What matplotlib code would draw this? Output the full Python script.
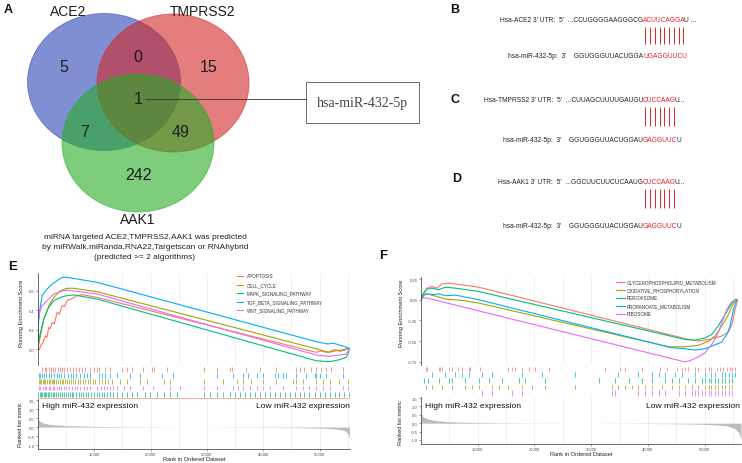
import matplotlib
matplotlib.use("Agg")
import matplotlib.pyplot as plt
from matplotlib.patches import Ellipse, Rectangle

plt.rcParams['font.family'] = ['Liberation Sans', 'DejaVu Sans']

# ---------------- data ----------------
venn_names = ["ACE2", "TMPRSS2", "AAK1"]
# ACE2 only, ACE2&TMPRSS2, TMPRSS2 only, all three, ACE2&AAK1, TMPRSS2&AAK1, AAK1 only
venn_counts = [5, 0, 15, 1, 7, 49, 242]
venn_hit = "hsa-miR-432-5p"
caption = ["miRNA targeted ACE2,TMPRSS2,AAK1 was predicted",
           "by miRWalk,miRanda,RNA22,Targetscan or RNAhybrid",
           "(predicted >= 2 algorithms)"]

seq_panels = ["B", "C", "D"]
utr_labels = ["Hsa-ACE2 3' UTR:", "Hsa-TMPRSS2 3' UTR:", "Hsa-AAK1 3' UTR:"]
utr_left = ["...CCUGGGGAAGGGCG", "...CUUAGCUUUUGAUGU", "...GGCUUCUUCUCAAUG"]
utr_seed = ["ACUUCAGGA", "CUCCAAG", "CUCCAAG"]
utr_right = ["U ...", "U...", "U..."]
mir_label = "hsa-miR-432-5p:"
mir_left = ["GGUGGGUUACUGGA", "GGUGGGUUACUGGAU", "GGUGGGUUACUGGAU"]
mir_seed = ["UGAGGUUCU", "GAGGUUC", "GAGGUUC"]
mir_right = ["", "U", "U"]

hue = ['#F8766D', '#A3A500', '#00BF7D', '#00B0F6', '#E76BF3']

# --- E: gene sets ---
e_sets = ["APOPTOSIS", "CELL_CYCLE", "MAPK_SIGNALING_PATHWAY",
          "TGF_BETA_SIGNALING_PATHWAY", "WNT_SIGNALING_PATHWAY"]
e_apop_x = [0, 270, 440, 740, 1330, 1600, 1920, 2200, 2510, 2900, 3390, 3800, 4280, 4700, 5160, 6050, 6930, 7820,
            10470, 49410, 50300, 51200, 51770, 52400, 52950, 53500, 54130, 54700, 55310]
e_apop_y = [0.007, -0.007, 0.034, 0.052, 0.138, 0.12, 0.224, 0.21, 0.276, 0.26, 0.379, 0.36, 0.448, 0.44, 0.5,
            0.524, 0.552, 0.562, 0.534, -0.034, -0.02, -0.035, -0.028, -0.01, -0.007, -0.025, -0.017, -0.005, 0.007]
e_cell_x = [0, 440, 1030, 1920, 2800, 3980, 5160, 6340, 10470, 50000, 51770, 52950, 54130, 55310]
e_cell_y = [0.007, 0.138, 0.31, 0.448, 0.534, 0.603, 0.628, 0.628, 0.593, -0.007, -0.034, -0.017, -0.007, 0.007]
e_mapk_x = [0, 440, 1030, 1920, 2800, 3980, 5160, 6340, 10470, 49410, 51770, 53540, 54720, 55020, 55310]
e_mapk_y = [0.052, 0.172, 0.31, 0.431, 0.5, 0.534, 0.552, 0.559, 0.517, -0.121, -0.131, -0.11, -0.086, -0.052, 0.0]
e_tgf_x = [0, 100, 300, 740, 1620, 2510, 3390, 4280, 5160, 6930, 10470, 49410, 50590, 51480, 52360, 53540, 55310]
e_tgf_y = [0.05, 0.28, 0.40, 0.552, 0.621, 0.672, 0.707, 0.741, 0.741, 0.724, 0.69, 0.076, 0.062, 0.052, 0.062,
           0.041, 0.007]
e_wnt_x = [0, 150, 740, 1620, 2800, 3980, 5160, 10470, 49410, 51770, 53540, 54720, 55310]
e_wnt_y = [0.207, 0.362, 0.448, 0.5, 0.569, 0.593, 0.61, 0.569, -0.062, -0.076, -0.062, -0.052, 0.0]

e_hits_apop = [700, 1200, 1500, 1900, 2300, 2700, 3100, 3500, 3900, 4300, 4700, 5200, 5600, 6300, 6800, 7200,
               7800, 8400, 9200, 10000, 10500, 10900, 11900, 12800, 14900, 15800, 16700, 18700, 20200, 20600,
               22900, 29400, 31700, 34100, 34400, 37000, 39400, 42300, 45900, 46500, 47300, 48500, 49300, 50300,
               51200, 52100, 54100]
e_hits_cell = [100, 300, 600, 800, 1000, 1300, 1600, 1900, 2100, 2400, 2700, 2900, 3200, 3500, 3900, 4200, 4500,
               4800, 5200, 5500, 5900, 6200, 6600, 7100, 7500, 8000, 8400, 8800, 9300, 9800, 10200, 10800, 11400,
               11900, 12500, 13100, 14600, 15800, 18100, 19300, 22300, 23500, 29400, 32900, 35300, 36400, 37900,
               40000, 42300, 45300, 45900, 47100, 49400, 50600, 51800, 53500, 55000]
e_hits_mapk = [0, 300, 500, 700, 1000, 1200, 1400, 1700, 2000, 2300, 2600, 2900, 3200, 3500, 3900, 4200, 4600,
               4900, 5300, 5600, 6000, 6300, 6800, 7200, 7600, 8000, 8500, 8900, 9400, 9900, 10400, 10800, 11300,
               11800, 12200, 12800, 13400, 14100, 14900, 15800, 16700, 17600, 19000, 19900, 21100, 22300, 23500,
               24600, 29400, 30500, 31700, 32900, 34100, 35000, 35800, 36700, 37600, 38500, 39400, 40300, 41200,
               42000, 42900, 43800, 44700, 45600, 46500, 47300, 48200, 49100, 50000, 50900, 51800, 52700, 53500,
               54400, 55200]
e_hits_tgf = [100, 400, 700, 1000, 1500, 1900, 2300, 2800, 3300, 3700, 4100, 4600, 5300, 5800, 6200, 6800, 7500,
              8100, 8700, 9300, 10800, 11400, 11900, 12800, 14000, 16400, 18100, 22000, 24000, 31700, 34700,
              36400, 37300, 38800, 40000, 42000, 42600, 43500, 44100, 45900, 47600, 49100, 49400, 50000, 51200,
              54100]
e_hits_wnt = [100, 400, 800, 1200, 1500, 1900, 2200, 2600, 2900, 3300, 3700, 4100, 4600, 5000, 5500, 6000, 6500,
              6900, 7500, 8100, 8700, 9300, 10500, 11100, 11700, 12200, 12800, 13400, 14000, 15200, 16400, 18700,
              20500, 23500, 25200, 29400, 31700, 34700, 35500, 36400, 37600, 38800, 40000, 41200, 43500, 45900,
              47100, 48200, 49400, 50600, 51800, 54100, 55000]

e_rank_x = [0, 300, 1000, 2000, 3500, 5000, 7500, 10000, 15000, 20000, 28000, 35000, 42000, 47000, 50000,
            52000, 53500, 54500, 55000, 55300]
e_rank_y = [0.45, 0.32, 0.22, 0.15, 0.11, 0.08, 0.06, 0.04, 0.02, 0.01, 0.0, -0.01, -0.02, -0.04, -0.06,
            -0.09, -0.13, -0.2, -0.35, -0.6]

# --- F: gene sets ---
f_sets = ["GLYCEROPHOSPHOLIPID_METABOLISM", "OXIDATIVE_PHOSPHORYLATION", "PEROXISOME",
          "PROPANOATE_METABOLISM", "RIBOSOME"]
f_glyc_x = [0, 470, 1060, 1940, 2820, 3700, 4870, 7220, 10150, 47140, 48900, 51240, 53000, 54180, 54880, 55350,
            55820]
f_glyc_y = [0.02, 0.08, 0.14, 0.16, 0.14, 0.192, 0.2, 0.18, 0.152, -0.48, -0.5, -0.473, -0.44, -0.393, -0.28,
            -0.12, 0.0]
f_oxph_x = [0, 760, 1640, 3110, 4280, 7220, 10150, 43610, 46550, 48900, 50660, 51830, 53000, 54180, 55060, 55650]
f_oxph_y = [0.0, 0.072, 0.06, 0.032, 0.008, -0.008, -0.04, -0.569, -0.569, -0.553, -0.5, -0.441, -0.32, -0.18,
            -0.04, -0.008]
f_perox_x = [0, 470, 1060, 1940, 3110, 4280, 6050, 10150, 46550, 48310, 50070, 51240, 52420, 53590, 54770, 55470]
f_perox_y = [0.008, 0.08, 0.128, 0.14, 0.12, 0.152, 0.14, 0.1, -0.481, -0.489, -0.461, -0.421, -0.313, -0.18,
             -0.04, 0.008]
f_prop_x = [0, 350, 1060, 2230, 3110, 4280, 6050, 10150, 44200, 46550, 48310, 50070, 51240, 53000, 53890, 54470,
            55060, 55650]
f_prop_y = [-0.008, 0.06, 0.072, 0.06, 0.072, 0.048, 0.056, 0.0, -0.581, -0.593, -0.609, -0.593, -0.561, -0.513,
            -0.421, -0.32, -0.12, 0.0]
f_ribo_x = [0, 180, 1060, 46550, 47720, 48900, 50070, 51240, 52130, 53000, 53890, 54650, 55350]
f_ribo_y = [-0.02, 0.02, 0.02, -0.753, -0.729, -0.689, -0.641, -0.541, -0.441, -0.28, -0.12, -0.032, 0.0]

f_hits_glyc = [800, 1100, 3100, 3400, 3700, 4900, 5500, 6600, 7200, 8400, 8700, 10400, 15400, 16000, 16600,
               17800, 19000, 20100, 22500, 32500, 35100, 36000, 38900, 42100, 43300, 45100, 46000, 46500, 47100,
               48300, 48900, 50100, 50700, 51200, 52100, 52700, 53300, 53900, 54500, 54800, 55400]
f_hits_oxph = [800, 1900, 3700, 5500, 7800, 9000, 10200, 12500, 13700, 15400, 17800, 19500, 21900, 27200, 33600,
               34800, 36000, 37200, 38300, 39500, 40700, 42400, 44200, 45400, 46500, 47700, 48900, 50100, 50700,
               51200, 51800, 52400, 53000, 53600, 54200, 54800]
f_hits_perox = [500, 1300, 3100, 4900, 5500, 7800, 10200, 11900, 14300, 17200, 18400, 21900, 31300, 34200, 36600,
                38900, 40700, 43000, 44200, 45400, 47100, 48300, 49500, 50100, 50700, 51200, 51800, 52400, 53000,
                53600, 54200, 54800]
f_hits_prop = [1900, 4300, 6000, 7200, 8400, 10700, 12500, 17800, 21300, 27200, 34800, 38300, 40700, 41900,
               43000, 44800, 46000, 48300, 50100, 51200, 51800, 53000, 53600, 54200, 54800, 55400]
f_hits_ribo = [10700, 12500, 16000, 17800, 33600, 34200, 38300, 39500, 40700, 41900, 43000, 45400, 46500, 47700,
               48300, 48900, 49500, 50100, 50700, 51200, 51800, 52400, 53000, 53600, 54200, 54800]

f_rank_x = [0, 300, 1000, 2000, 3500, 5000, 7500, 10000, 15000, 20000, 28000, 36000, 44000, 49000, 52000,
            54000, 55200, 56000, 56400]
f_rank_y = [0.6, 0.4, 0.28, 0.19, 0.13, 0.09, 0.06, 0.04, 0.02, 0.01, 0.0, -0.01, -0.03, -0.06, -0.1,
            -0.16, -0.3, -0.55, -1.0]

# ---------------- figure ----------------
W, H = 742, 464
fig = plt.figure(figsize=(W / 100, H / 100), dpi=100)


def px_axes(x0, y0, x1, y1, **kw):
    return fig.add_axes([x0 / W, 1 - y1 / H, (x1 - x0) / W, (y1 - y0) / H], **kw)


ov = px_axes(0, 0, W, H, zorder=5)
ov.set_xlim(0, W)
ov.set_ylim(H, 0)
ov.axis('off')

# --- A: venn ---
venn_colors = ['#2b45b5', '#d22626', '#26ac26']
venn_geom = [((104, 83), 153, 137), ((173, 84), 152, 138), ((138, 144), 152, 138)]
for (c, w, h), col in zip(venn_geom, venn_colors):
    ov.add_patch(Ellipse(c, w, h, facecolor=col, edgecolor=col, lw=0.6, alpha=0.6))
count_pos = [(64, 68), (138, 57), (209, 68), (138, 100), (85, 133), (181, 133), (138, 176)]
for (x, y), n in zip(count_pos, venn_counts):
    ov.text(x, y, str(n), ha='center', va='center', fontsize=11.5, color='#1e1e1e')
for (x, y), name in zip([(68, 12), (203, 12), (138, 220)], venn_names):
    ov.text(x, y, name, ha='center', va='center', fontsize=10, color='#1e1e1e')
ov.plot([145, 306], [100, 100], color='#333333', lw=0.6)
ov.add_patch(Rectangle((306, 83), 113, 41, fill=False, ec='#555555', lw=0.6))
ov.text(362.5, 104, venn_hit, ha='center', va='center', fontsize=10, color='#444444',
        family=['Liberation Serif', 'DejaVu Serif'])
for i, line in enumerate(caption):
    ov.text(145, 238 + 10 * i, line, ha='center', va='center', fontsize=6, color='#222222')

# --- B, C, D: seed matches ---
red = '#e8202a'
seq_font = dict(fontsize=4.8, family=['Liberation Sans Narrow', 'Liberation Sans', 'DejaVu Sans'],
                va='center', color='#222222')
seed_x = 643
line_y = [(20, 57), (100, 141), (183, 227)]
bar_y = [(28, 45), (108, 127), (190, 209)]
renderer = fig.canvas.get_renderer()


def span(t):
    bb = t.get_window_extent(renderer=renderer)
    inv = ov.transData.inverted()
    return inv.transform((bb.x0, bb.y0))[0], inv.transform((bb.x1, bb.y1))[0]


for i, lab in enumerate(seq_panels):
    y1, y2 = line_y[i]
    ov.text(seed_x, y1, f"{utr_labels[i]}  5'  {utr_left[i]}", ha='right', **seq_font)
    t = ov.text(seed_x, y1, utr_seed[i], ha='left', **{**seq_font, 'color': red})
    xa, xb = span(t)
    ov.text(xb - 1.2, y1, utr_right[i], ha='left', **seq_font)
    n = len(utr_seed[i])
    xs = [xa + (k + 0.5) * (xb - xa) / n for k in range(n)]
    ov.vlines(xs, bar_y[i][0], bar_y[i][1], color=red, lw=0.7)

    ov.text(seed_x, y2, f"{mir_label}  3'    {mir_left[i]}", ha='right', **seq_font)
    t = ov.text(seed_x, y2, mir_seed[i], ha='left', **{**seq_font, 'color': red})
    xa, xb = span(t)
    if mir_right[i]:
        ov.text(xb - 1.2, y2, mir_right[i], ha='left', **seq_font)

for lab, (x, y) in zip(["A", "B", "C", "D"], [(8, 10), (455, 10), (455, 100), (457, 179)]):
    ov.text(x, y, lab, ha='center', va='center', fontsize=9, fontweight='bold', color='#111111')
ov.text(13, 267, "E", ha='center', va='center', fontsize=9.5, fontweight='bold', color='#111111')
ov.text(383, 256, "F", ha='center', va='center', fontsize=9.5, fontweight='bold', color='#111111')


# --- E, F: GSEA plots ---
def style(ax, xmax, bottom):
    for s in ['top', 'right']:
        ax.spines[s].set_visible(False)
    ax.spines['bottom'].set_visible(bottom)
    for s in ['left', 'bottom']:
        ax.spines[s].set_color('#333333')
        ax.spines[s].set_linewidth(0.5)
    ax.set_xlim(0, xmax)
    ax.set_xticks([10000, 20000, 30000, 40000, 50000])
    ax.set_xticks([5000, 15000, 25000, 35000, 45000, 55000], minor=True)
    ax.grid(axis='x', which='both', color='#ececec', lw=0.5)
    ax.set_axisbelow(True)
    ax.tick_params(labelsize=3, colors='#4d4d4d', length=1.5, width=0.4, pad=1)
    ax.tick_params(axis='x', which='minor', length=0)
    if not bottom:
        ax.tick_params(axis='x', length=0, labelbottom=False)


def gsea(left, right, es_top, es_bot, rank_top, rank_bot, xmax, es_ylim, es_ticks, es_labels, rank_ylim,
         curves, hits, rows_of, row_px, base_y, base_col, rank_x, rank_y):
    es = px_axes(left, es_top, right, es_bot)
    style(es, xmax, False)
    for (xs, ys), col in zip(curves, hue):
        es.plot(xs, ys, color=col, lw=0.8)
    es.set_ylim(*es_ylim)
    es.set_yticks(es_ticks)
    es.set_yticklabels(es_labels)

    hx = px_axes(left, es_bot, right, rank_top)
    hx.set_xlim(0, xmax)
    hx.set_ylim(rank_top, es_bot)
    hx.axis('off')
    for xs, r, col in zip(hits, rows_of, hue):
        hx.vlines(xs, row_px[r][0], row_px[r][1], color=col, lw=0.6, alpha=0.85)
    hx.plot([0, xmax], [base_y, base_y], color=base_col, lw=0.6, alpha=0.7)

    rk = px_axes(left, rank_top, right, rank_bot)
    style(rk, xmax, True)
    rk.fill_between(rank_x, rank_y, 0, color='#bdbdbd', lw=0)
    rk.set_ylim(*rank_ylim)
    rk.set_yticks([1.5, 1.0, 0.5, 0.0, -0.5, -1.0])
    rk.set_yticklabels(['1.5', '1.0', '0.5', '0.0', '-0.5', '-1.0'])
    rk.set_xticklabels(['10000', '20000', '30000', '40000', '50000'])
    return es, rk


gsea(38, 350, 274, 366, 400, 450, 55400, (-0.165, 0.786), [0.0, 0.2, 0.4, 0.6], ['0.0', '0.2', '0.4', '0.6'],
     (-1.22, 1.56),
     [(e_apop_x, e_apop_y), (e_cell_x, e_cell_y), (e_mapk_x, e_mapk_y), (e_tgf_x, e_tgf_y), (e_wnt_x, e_wnt_y)],
     [e_hits_apop, e_hits_cell, e_hits_mapk, e_hits_tgf, e_hits_wnt], [0, 2, 4, 1, 3],
     [(368, 372.5), (374, 378.5), (380, 384.5), (386.5, 391), (392.5, 398)], 399, '#f8766d',
     e_rank_x, e_rank_y)

gsea(421, 741, 278, 366, 398, 445, 56400, (-0.79, 0.275), [-0.75, -0.5, -0.25, 0.0, 0.25],
     ['-0.75', '-0.50', '-0.25', '0.00', '0.25'], (-1.24, 1.56),
     [(f_glyc_x, f_glyc_y), (f_oxph_x, f_oxph_y), (f_perox_x, f_perox_y), (f_prop_x, f_prop_y),
      (f_ribo_x, f_ribo_y)],
     [f_hits_glyc, f_hits_oxph, f_hits_perox, f_hits_prop, f_hits_ribo], [0, 3, 2, 1, 4],
     [(368.3, 372.3), (373.3, 378.3), (379, 384.3), (385.7, 390), (391, 396.7)], 397.7, '#e76bf3',
     f_rank_x, f_rank_y)

# legends
for names, (lx0, lx1, tx), ys in [(e_sets, (237, 243, 247), [277, 285.5, 294, 302.5, 311]),
                                   (f_sets, (616, 625, 627), [283, 291, 299, 307, 314.5])]:
    for name, y, col in zip(names, ys, hue):
        ov.plot([lx0, lx1], [y, y], color=col, lw=0.8)
        ov.text(tx, y, name, ha='left', va='center', fontsize=3.3, color='#333333')

# axis titles and annotations
lab_font = dict(fontsize=4.1, color='#222222', ha='center', va='center')
ov.text(22, 313, "Running Enrichment Score", rotation=90, **lab_font)
ov.text(20, 425, "Ranked list metric", rotation=90, **lab_font)
ov.text(401, 313, "Running Enrichment Score", rotation=90, **lab_font)
ov.text(401, 423, "Ranked list metric", rotation=90, **lab_font)
ov.text(194, 460, "Rank in Ordered Dataset", **lab_font)
ov.text(581, 455, "Rank in Ordered Dataset", **lab_font)

ov.text(42, 407, "High miR-432 expression", ha='left', va='center', fontsize=6.1, color='#111111')
ov.text(350, 407, "Low miR-432 expression", ha='right', va='center', fontsize=6.1, color='#111111')
ov.text(425, 407, "High miR-432 expression", ha='left', va='center', fontsize=6.1, color='#111111')
ov.text(740, 407, "Low miR-432 expression", ha='right', va='center', fontsize=6.1, color='#111111')

fig.savefig("out.png", dpi=100)
